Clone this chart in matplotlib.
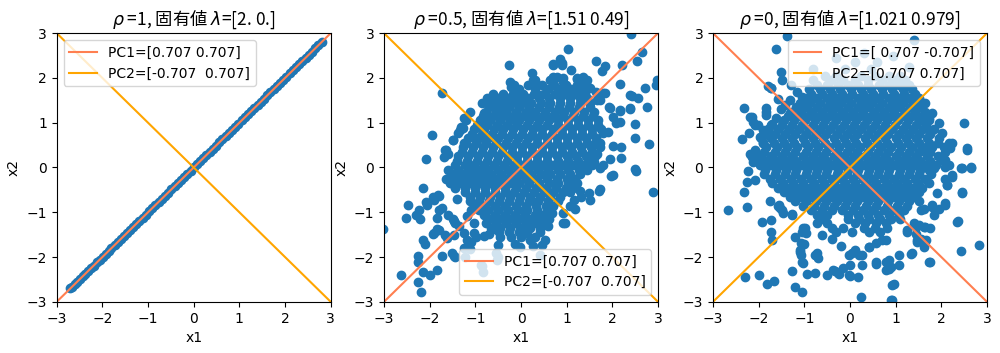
import numpy as np
import matplotlib
matplotlib.use("Agg")
import matplotlib.pyplot as plt

plt.rcParams['font.family'] = ['DejaVu Sans', 'Noto Sans CJK JP']

# --- data ---
rhos = ['1', '0.5', '0']
eigvals = ['[2. 0.]', '[1.51 0.49]', '[1.021 0.979]']
pc1 = [(0.707, 0.707), (0.707, 0.707), (0.707, -0.707)]
pc2 = [(-0.707, 0.707), (-0.707, 0.707), (0.707, 0.707)]
pc1_labels = ['PC1=[0.707 0.707]', 'PC1=[0.707 0.707]', 'PC1=[ 0.707 -0.707]']
pc2_labels = ['PC2=[-0.707  0.707]', 'PC2=[-0.707  0.707]', 'PC2=[0.707 0.707]']
legend_locs = ['upper left', 'lower right', 'upper right']

# rho = 1: every point sits on x2 = x1
x1_rho1 = [-2.70, -2.66, -2.60, -2.55, -2.49, -2.43, -2.37, -2.31, -2.25, -2.19,
           -2.12, -2.06, -1.99, -1.93, -1.86, -1.80, -1.73, -1.66, -1.60, -1.53,
           -1.46, -1.40, -1.33, -1.26, -1.19, -1.12, -1.05, -0.98, -0.91, -0.84,
           -0.77, -0.70, -0.63, -0.56, -0.49, -0.42, -0.35, -0.28, -0.21, -0.14,
           -0.07, 0.00, 0.07, 0.14, 0.21, 0.28, 0.35, 0.42, 0.49, 0.56,
           0.63, 0.70, 0.77, 0.84, 0.91, 0.98, 1.05, 1.12, 1.19, 1.26,
           1.33, 1.40, 1.47, 1.54, 1.61, 1.68, 1.75, 1.82, 1.89, 1.96,
           2.03, 2.10, 2.17, 2.24, 2.31, 2.38, 2.45, 2.52, 2.59, 2.66, 2.73, 2.80]
x2_rho1 = list(x1_rho1)

# rho = 0.5 : scattered points
pts_rho05 = [
    (2.40, 2.98), (1.02, 2.64), (-0.26, 2.28), (0.70, 2.31), (0.86, 2.42), (0.90, 2.30),
    (1.65, 2.37), (1.78, 2.16), (2.22, 2.29), (2.53, 2.37), (2.64, 2.59), (2.95, 1.84),
    (1.10, 2.18), (0.24, 2.10), (0.30, 1.95), (0.34, 1.84), (-0.25, 1.92), (-0.21, 1.80),
    (-1.74, 1.67), (2.16, 1.87), (1.80, 1.66), (2.42, 1.60), (2.56, 1.55), (2.75, 1.36),
    (2.49, 0.97), (2.49, 0.65), (2.80, 0.52), (2.02, 0.49), (2.20, 0.46), (2.20, 0.22),
    (2.50, -0.04), (2.38, 1.30), (2.16, 1.27), (1.94, 1.32), (-1.11, 1.25), (-0.74, 1.43),
    (-0.30, 1.43), (-1.94, 0.72), (-1.49, 0.61), (-2.09, 0.18), (-1.67, 0.39), (-1.60, 0.30),
    (-1.27, 0.88), (-1.20, 1.06), (-1.34, 0.84), (-0.54, 1.28), (0.41, 1.62), (0.63, 1.95),
    (0.78, 2.02), (0.93, 1.90), (1.22, 1.98), (1.36, 2.02), (1.43, 1.88), (1.65, 1.69),
    (1.72, 1.50), (2.02, 1.13), (2.09, 0.99), (1.90, 0.80), (1.95, 0.20), (1.80, 0.05),
    (2.51, -0.08), (2.88, -0.54), (1.98, -0.18), (1.72, -0.48), (1.51, -0.73), (1.32, -0.65),
    (1.18, -0.92), (0.96, -1.25), (0.62, -1.14), (0.52, -1.63), (0.41, -1.37), (-2.14, -0.45),
    (-2.47, -0.83), (-2.51, -1.13), (-2.29, -1.06), (-2.22, -1.14), (-2.07, -0.77), (-1.92, -0.66),
    (-1.82, -0.62), (-2.14, -1.63), (-2.10, -1.70), (-1.92, -1.48), (-1.85, -1.37), (-1.60, -1.07),
    (-1.49, -1.14), (-1.45, -1.25), (-1.67, -1.51), (-2.25, -1.97), (-2.25, -2.11), (-2.62, -2.41),
    (-2.14, -2.33), (-1.85, -2.30), (-2.00, -2.41), (-2.25, -2.56), (-2.18, -2.78), (-1.52, -1.92),
    (-1.45, -2.00), (-1.23, -2.00), (-1.12, -1.81), (-0.83, -2.33), (-0.87, -2.18), (-0.54, -1.92),
    (-0.50, -2.00), (-1.09, -1.66), (-0.98, -1.55), (-0.69, -1.48), (-0.58, -1.37), (-0.50, -1.74),
    (-0.14, -1.70), (-0.03, -1.77), (0.19, -1.63), (0.30, -1.55), (0.92, -1.25), (-3.02, -1.38),
    # around the edge of the cloud
    (-0.77, 1.47), (-0.66, 1.40), (-0.48, 1.28), (-0.34, 1.40), (-1.25, 1.10), (-1.32, 0.91),
    (-1.39, 0.76), (-1.50, 0.61), (-1.65, 0.39), (-1.69, 0.24), (-1.25, 0.54), (-1.03, 0.69),
    (-0.96, 0.91), (-0.81, 1.02), (-0.81, 1.21), (-0.15, 1.66), (-0.12, 1.51), (0.89, 2.33),
    (0.69, 2.29), (1.84, 2.27), (0.27, 1.96), (2.72, 1.77), (2.97, 1.96), (1.84, 1.66),
    (1.66, 1.51), (2.39, 1.62), (1.92, 1.36), (2.17, 1.28), (2.39, 1.32), (2.17, 1.02),
    (1.80, 0.76), (1.73, 0.54), (1.66, 0.31), (1.59, 0.13), (0.71, 2.03), (0.93, 1.99),
    (1.22, 1.99), (1.44, 1.96), (1.51, 1.77), (1.37, 1.88), (-2.23, -0.94), (-2.05, -0.83),
    (-1.91, -0.72), (-1.80, -0.64), (-1.83, -1.13), (-1.80, -0.94), (-1.72, -0.90), (-1.91, -1.46),
    (-1.80, -1.39), (-1.61, -1.57), (-1.47, -1.50), (-1.47, -1.20), (-1.36, -1.31), (-1.25, -1.46),
    (-1.72, -1.98), (-1.47, -1.98), (-1.18, -1.61), (-1.03, -1.46), (-0.81, -1.54), (-1.25, -1.80),
    (-0.85, -2.21), (-0.52, -2.06), (-1.03, -1.24), (-1.18, -1.09), (-1.10, -0.94), (-1.40, -0.70),
    (-1.55, -0.35), (1.73, -0.01), (2.02, -0.16), (1.70, -0.53), (1.48, -0.57), (1.29, -0.53),
    (1.15, -0.72), (1.08, -0.87), (0.93, -1.01), (0.67, -1.01), (0.60, -1.31), (0.49, -1.24),
    (0.42, -1.43), (0.45, -1.72), (0.27, -1.76), (0.13, -1.46), (0.42, -1.95),
]

# rho = 0.5 : dense middle of the cloud
core_rho05 = [
    (-0.15, 1.85), (0.15, 1.85), (0.45, 1.85), (0.72, 1.85), (0.98, 1.85), (1.22, 1.85),
    (-0.05, 1.75), (0.30, 1.75), (0.60, 1.75), (0.86, 1.75), (1.10, 1.75), (1.32, 1.75),
    (-0.62, 1.65), (-0.40, 1.65), (-0.18, 1.65), (0.05, 1.65), (0.28, 1.65), (0.50, 1.65),
    (0.74, 1.65), (0.96, 1.65), (1.18, 1.65), (1.40, 1.65),
    (-0.74, 1.55), (-0.51, 1.55), (-0.29, 1.55), (-0.07, 1.55), (0.16, 1.55), (0.39, 1.55),
    (0.62, 1.55), (0.85, 1.55), (1.07, 1.55), (1.29, 1.55), (1.45, 1.55),
    (-0.85, 1.45), (-0.62, 1.45), (-0.41, 1.45), (-0.20, 1.45), (0.02, 1.45), (0.22, 1.45),
    (0.43, 1.45), (0.64, 1.45), (0.86, 1.45), (1.08, 1.45), (1.29, 1.45), (1.50, 1.45),
    (-0.70, 1.35), (-0.48, 1.35), (-0.26, 1.35), (-0.04, 1.35), (0.18, 1.35),
    (0.40, 1.35), (0.62, 1.35), (0.84, 1.35), (1.06, 1.35), (1.28, 1.35), (1.50, 1.35),
    (-0.77, 1.25), (-0.55, 1.25), (-0.33, 1.25), (-0.12, 1.25), (0.10, 1.25),
    (0.31, 1.25), (0.53, 1.25), (0.74, 1.25), (0.95, 1.25), (1.17, 1.25), (1.38, 1.25), (1.60, 1.25),
    (-0.84, 1.15), (-0.62, 1.15), (-0.40, 1.15), (-0.18, 1.15), (0.04, 1.15),
    (0.26, 1.15), (0.48, 1.15), (0.70, 1.15), (0.92, 1.15), (1.14, 1.15), (1.36, 1.15), (1.58, 1.15),
    (-0.90, 1.05), (-0.68, 1.05), (-0.47, 1.05), (-0.25, 1.05), (-0.04, 1.05),
    (0.18, 1.05), (0.39, 1.05), (0.61, 1.05), (0.82, 1.05), (1.03, 1.05), (1.25, 1.05),
    (1.46, 1.05), (1.68, 1.05),
    (-0.96, 0.95), (-0.74, 0.95), (-0.52, 0.95), (-0.30, 0.95), (-0.08, 0.95),
    (0.14, 0.95), (0.36, 0.95), (0.58, 0.95), (0.80, 0.95), (1.02, 0.95), (1.24, 0.95),
    (1.46, 0.95), (1.68, 0.95),
    (-1.04, 0.85), (-0.82, 0.85), (-0.60, 0.85), (-0.39, 0.85), (-0.17, 0.85),
    (0.05, 0.85), (0.26, 0.85), (0.47, 0.85), (0.69, 0.85), (0.90, 0.85), (1.12, 0.85),
    (1.33, 0.85), (1.55, 0.85), (1.76, 0.85),
    (-1.08, 0.75), (-0.86, 0.75), (-0.64, 0.75), (-0.42, 0.75), (-0.20, 0.75),
    (0.02, 0.75), (0.24, 0.75), (0.46, 0.75), (0.68, 0.75), (0.90, 0.75), (1.12, 0.75),
    (1.34, 0.75), (1.56, 0.75),
    (-1.15, 0.65), (-0.93, 0.65), (-0.72, 0.65), (-0.50, 0.65), (-0.28, 0.65),
    (-0.07, 0.65), (0.15, 0.65), (0.36, 0.65), (0.57, 0.65), (0.79, 0.65), (1.00, 0.65),
    (1.22, 0.65), (1.43, 0.65), (1.65, 0.65),
    (-1.20, 0.55), (-0.98, 0.55), (-0.76, 0.55), (-0.54, 0.55), (-0.32, 0.55),
    (-0.10, 0.55), (0.12, 0.55), (0.34, 0.55), (0.56, 0.55), (0.78, 0.55), (1.00, 0.55),
    (1.22, 0.55), (1.44, 0.55), (1.62, 0.55),
    (-1.26, 0.45), (-1.05, 0.45), (-0.83, 0.45), (-0.62, 0.45), (-0.40, 0.45),
    (-0.19, 0.45), (0.03, 0.45), (0.24, 0.45), (0.46, 0.45), (0.67, 0.45), (0.89, 0.45),
    (1.10, 0.45), (1.32, 0.45), (1.53, 0.45), (1.72, 0.45),
    (-1.30, 0.35), (-1.08, 0.35), (-0.86, 0.35), (-0.64, 0.35), (-0.42, 0.35),
    (-0.20, 0.35), (0.02, 0.35), (0.24, 0.35), (0.46, 0.35), (0.68, 0.35), (0.90, 0.35),
    (1.12, 0.35), (1.34, 0.35), (1.56, 0.35),
    (-1.37, 0.25), (-1.15, 0.25), (-0.94, 0.25), (-0.72, 0.25), (-0.51, 0.25),
    (-0.29, 0.25), (-0.08, 0.25), (0.14, 0.25), (0.35, 0.25), (0.57, 0.25), (0.78, 0.25),
    (1.00, 0.25), (1.21, 0.25), (1.42, 0.25), (1.62, 0.25),
    (-1.40, 0.15), (-1.18, 0.15), (-0.96, 0.15), (-0.74, 0.15), (-0.52, 0.15),
    (-0.30, 0.15), (-0.08, 0.15), (0.14, 0.15), (0.36, 0.15), (0.58, 0.15), (0.80, 0.15),
    (1.02, 0.15), (1.24, 0.15), (1.46, 0.15),
    (-1.45, 0.05), (-1.23, 0.05), (-1.02, 0.05), (-0.80, 0.05), (-0.59, 0.05),
    (-0.37, 0.05), (-0.16, 0.05), (0.06, 0.05), (0.27, 0.05), (0.49, 0.05), (0.70, 0.05),
    (0.92, 0.05), (1.13, 0.05), (1.35, 0.05), (1.55, 0.05),
    (-1.60, -0.05), (-1.38, -0.05), (-1.16, -0.05), (-0.94, -0.05), (-0.72, -0.05), (-0.50, -0.05),
    (-0.28, -0.05), (-0.06, -0.05), (0.16, -0.05), (0.38, -0.05), (0.60, -0.05), (0.82, -0.05),
    (1.04, -0.05), (1.26, -0.05), (1.45, -0.05),
    (-1.51, -0.15), (-1.29, -0.15), (-1.08, -0.15), (-0.86, -0.15), (-0.65, -0.15),
    (-0.43, -0.15), (-0.22, -0.15), (0.00, -0.15), (0.21, -0.15), (0.43, -0.15), (0.64, -0.15),
    (0.86, -0.15), (1.07, -0.15), (1.30, -0.15),
    (-1.64, -0.25), (-1.42, -0.25), (-1.20, -0.25), (-0.98, -0.25), (-0.76, -0.25), (-0.54, -0.25),
    (-0.32, -0.25), (-0.10, -0.25), (0.12, -0.25), (0.34, -0.25), (0.56, -0.25), (0.78, -0.25),
    (1.00, -0.25), (1.18, -0.25),
    (-1.54, -0.35), (-1.33, -0.35), (-1.11, -0.35), (-0.90, -0.35), (-0.68, -0.35),
    (-0.47, -0.35), (-0.25, -0.35), (-0.04, -0.35), (0.18, -0.35), (0.39, -0.35), (0.61, -0.35),
    (0.82, -0.35), (1.04, -0.35), (1.22, -0.35),
    (-1.44, -0.45), (-1.22, -0.45), (-1.00, -0.45), (-0.78, -0.45), (-0.56, -0.45),
    (-0.34, -0.45), (-0.12, -0.45), (0.10, -0.45), (0.32, -0.45), (0.54, -0.45), (0.76, -0.45),
    (0.98, -0.45), (1.14, -0.45),
    (-1.22, -0.55), (-1.01, -0.55), (-0.79, -0.55), (-0.58, -0.55),
    (-0.36, -0.55), (-0.15, -0.55), (0.07, -0.55), (0.28, -0.55), (0.50, -0.55), (0.71, -0.55),
    (0.93, -0.55), (1.08, -0.55),
    (-1.12, -0.65), (-0.90, -0.65), (-0.68, -0.65), (-0.46, -0.65),
    (-0.24, -0.65), (-0.02, -0.65), (0.20, -0.65), (0.42, -0.65), (0.64, -0.65), (0.86, -0.65),
    (-1.12, -0.75), (-0.91, -0.75), (-0.69, -0.75), (-0.48, -0.75),
    (-0.26, -0.75), (-0.05, -0.75), (0.17, -0.75), (0.38, -0.75), (0.60, -0.75), (0.80, -0.75),
    (-1.00, -0.85), (-0.78, -0.85), (-0.56, -0.85), (-0.34, -0.85),
    (-0.12, -0.85), (0.10, -0.85), (0.32, -0.85), (0.54, -0.85), (0.70, -0.85),
    (-0.93, -0.95), (-0.72, -0.95), (-0.50, -0.95), (-0.29, -0.95),
    (-0.07, -0.95), (0.14, -0.95), (0.36, -0.95), (0.58, -0.95),
    (-0.80, -1.05), (-0.58, -1.05), (-0.36, -1.05), (-0.14, -1.05),
    (0.08, -1.05), (0.30, -1.05), (0.48, -1.05),
    (-0.69, -1.15), (-0.48, -1.15), (-0.26, -1.15), (-0.05, -1.15),
    (0.17, -1.15), (0.38, -1.15),
    (-0.76, -1.25), (-0.54, -1.25), (-0.32, -1.25), (-0.10, -1.25), (0.12, -1.25),
    (0.30, -1.25),
    (-0.66, -1.35), (-0.45, -1.35), (-0.23, -1.35), (-0.02, -1.35), (0.20, -1.35),
    (-0.48, -1.45), (-0.26, -1.45), (-0.04, -1.45), (0.12, -1.45),
    (-0.45, -1.55), (-0.22, -1.55), (0.00, -1.55),
]

# rho = 0 : scattered points
pts_rho0 = [
    (-1.38, 2.94), (1.40, 2.85), (-1.63, 2.64), (-1.52, 2.14), (-1.49, 1.96), (-1.30, 1.84),
    (-1.74, 1.77), (-2.33, 1.32), (-2.36, 0.63), (-2.14, 1.13), (-2.07, 0.95), (-1.85, 1.25),
    (-1.82, 0.84), (-1.93, 0.69), (-2.22, 0.76), (-2.07, 0.39), (-2.14, 0.24), (1.94, 0.99),
    (2.02, 0.76), (2.24, 0.54), (2.20, 0.43), (2.09, 0.16), (2.56, 0.43), (2.49, 1.00),
    (1.65, 1.43), (1.80, 1.21), (1.58, 1.06), (-0.30, 2.45), (0.10, 2.35), (0.60, 2.35),
    (0.95, 2.50), (1.30, 2.25), (0.30, 2.55), (-0.80, 2.20), (-0.10, 2.20), (0.45, 2.20),
    (-2.67, -0.95), (-2.33, -0.54), (-2.25, -0.88), (-2.25, -0.32), (-2.07, -0.28), (-1.93, -1.21),
    (-1.74, -1.17), (-1.74, -1.44), (-1.71, -1.63), (-2.31, -2.45), (-2.00, -2.41), (-1.82, -2.60),
    (-1.67, -2.54), (-1.27, -2.32), (-1.20, -2.67), (-1.05, -2.77), (-0.94, -2.37), (-0.76, -2.35),
    (-0.50, -2.41), (-0.32, -2.32), (-0.25, -2.37), (-0.03, -2.41), (0.18, -2.45), (0.23, -2.89),
    (0.92, -2.97), (0.96, -2.60), (0.56, -2.12), (0.78, -2.10), (0.85, -2.26), (1.07, -2.18),
    (1.07, -1.96), (1.36, -1.92), (1.76, -2.10), (2.42, -1.87), (2.82, -1.74), (2.37, -1.20),
    (2.09, -0.80), (2.45, -0.54), (2.45, -0.02), (2.66, 0.00), (-1.09, -1.89), (-1.05, -2.11),
    (-0.76, -1.96), (-0.72, -1.92), (-0.03, -1.96), (0.05, -1.92), (0.20, -1.96), (0.27, -2.18),
    (0.00, -2.18), (0.41, -1.78), (0.56, -1.68), (0.78, -1.63), (1.47, -1.63), (1.62, -1.77),
    (1.51, -1.29), (1.65, -1.33), (1.76, -1.36), (1.94, -0.92), (1.80, -0.84), (1.62, -0.92),
    (2.13, -0.39), (2.24, -0.17), (2.09, -0.25), (1.83, -0.02), (2.09, 0.00), (-1.56, -0.84),
    (-1.49, -0.95), (-1.27, -1.03), (-1.05, -1.44), (-0.98, -1.36), (-1.20, -1.55), (-1.00, -1.70),
    (-0.40, -1.60), (-0.20, -1.75), (1.25, -1.45), (1.40, -1.25),
    # around the edge of the cloud
    (-1.80, 1.81), (-1.72, 1.77), (-2.20, 1.13), (-2.12, 1.02), (-2.01, 0.95), (-1.83, 1.32),
    (-1.83, 1.17), (-1.58, 1.54), (-1.32, 1.51), (-1.43, 1.40), (-1.32, 1.21), (-1.91, 0.84),
    (-1.98, 0.69), (-1.91, 0.54), (-2.20, 0.31), (-2.05, 0.31), (-1.94, 0.16), (-2.12, 0.13),
    (-1.15, 1.68), (-1.05, 1.58), (-1.52, 1.30), (-1.62, 1.10), (-1.70, 0.98),
    (-2.23, -0.08), (-1.76, -0.75), (-1.58, -0.87), (-1.47, -1.01), (-1.28, -1.05), (-1.54, -0.90),
    (-1.03, -1.35), (-0.96, -1.46), (-1.07, -1.69), (-1.07, -1.95), (-1.10, -1.84), (-1.03, -2.13),
    (-0.74, -1.95), (-0.70, -2.02), (-0.37, -2.28), (-0.26, -2.36), (-0.15, -2.25), (-0.01, -2.43),
    (2.17, 0.54), (2.57, 0.39), (2.09, 0.35), (2.02, 0.16), (2.17, 0.05), (2.42, -0.02),
    (2.64, -0.02), (2.24, -0.21), (2.13, -0.40), (2.46, -0.58), (1.91, -0.58), (2.09, -0.84),
    (1.80, -0.88), (1.84, -1.07), (1.55, -0.96), (2.35, -1.22), (1.73, -2.11), (1.33, -1.93),
    (0.85, -2.07), (0.56, -2.15), (0.78, -2.30), (0.89, -2.22), (1.66, -1.63), (1.47, -1.66),
    (1.44, -1.48), (1.55, -1.59), (0.93, -2.63), (0.89, -2.97), (1.44, -1.33), (1.62, -1.33),
    (1.25, -1.40), (0.41, -1.78), (0.71, -1.63), (0.12, -1.85), (0.27, -1.96), (1.73, 1.10),
    (1.80, 0.84), (1.66, 0.39), (-0.62, -1.50), (-0.72, -1.25),
]

# rho = 0 : dense middle of the cloud
core_rho0 = [
    (-0.55, 2.05), (-0.30, 2.05), (0.25, 2.05), (0.55, 2.05), (0.85, 2.05), (1.10, 2.05),
    (-0.80, 1.95), (-0.42, 1.95), (-0.15, 1.95), (0.10, 1.95), (0.40, 1.95), (0.70, 1.95),
    (0.98, 1.95), (1.20, 1.95),
    (-0.72, 1.85), (-0.50, 1.85), (-0.27, 1.85), (-0.05, 1.85), (0.18, 1.85),
    (0.40, 1.85), (0.63, 1.85), (0.86, 1.85), (1.08, 1.85), (1.30, 1.85),
    (-0.89, 1.75), (-0.66, 1.75), (-0.44, 1.75), (-0.21, 1.75), (0.02, 1.75),
    (0.25, 1.75), (0.47, 1.75), (0.70, 1.75), (0.93, 1.75), (1.15, 1.75), (1.35, 1.75),
    (-0.85, 1.65), (-0.62, 1.65), (-0.40, 1.65), (-0.17, 1.65),
    (0.05, 1.65), (0.28, 1.65), (0.51, 1.65), (0.73, 1.65), (0.96, 1.65), (1.19, 1.65), (1.42, 1.65),
    (-0.96, 1.55), (-0.74, 1.55), (-0.51, 1.55), (-0.28, 1.55),
    (-0.06, 1.55), (0.17, 1.55), (0.40, 1.55), (0.62, 1.55), (0.85, 1.55), (1.08, 1.55),
    (1.30, 1.55), (1.50, 1.55),
    (-1.10, 1.45), (-0.88, 1.45), (-0.65, 1.45), (-0.42, 1.45),
    (-0.20, 1.45), (0.03, 1.45), (0.26, 1.45), (0.48, 1.45), (0.71, 1.45), (0.94, 1.45),
    (1.16, 1.45), (1.39, 1.45), (1.60, 1.45),
    (-1.19, 1.35), (-0.96, 1.35), (-0.73, 1.35), (-0.51, 1.35),
    (-0.28, 1.35), (-0.05, 1.35), (0.17, 1.35), (0.40, 1.35), (0.63, 1.35), (0.85, 1.35),
    (1.08, 1.35), (1.31, 1.35), (1.52, 1.35),
    (-1.30, 1.25), (-1.07, 1.25), (-0.84, 1.25), (-0.62, 1.25),
    (-0.39, 1.25), (-0.16, 1.25), (0.06, 1.25), (0.29, 1.25), (0.52, 1.25), (0.74, 1.25),
    (0.97, 1.25), (1.20, 1.25), (1.42, 1.25), (1.65, 1.25),
    (-1.36, 1.15), (-1.14, 1.15), (-0.91, 1.15), (-0.68, 1.15),
    (-0.46, 1.15), (-0.23, 1.15), (0.00, 1.15), (0.22, 1.15), (0.45, 1.15), (0.68, 1.15),
    (0.90, 1.15), (1.13, 1.15), (1.36, 1.15), (1.58, 1.15),
    (-1.45, 1.05), (-1.22, 1.05), (-0.99, 1.05), (-0.77, 1.05),
    (-0.54, 1.05), (-0.31, 1.05), (-0.09, 1.05), (0.14, 1.05), (0.37, 1.05), (0.59, 1.05),
    (0.82, 1.05), (1.05, 1.05), (1.27, 1.05), (1.50, 1.05), (1.72, 1.05),
    (-1.73, 0.95), (-1.50, 0.95), (-1.27, 0.95), (-1.05, 0.95), (-0.82, 0.95),
    (-0.59, 0.95), (-0.37, 0.95), (-0.14, 0.95), (0.09, 0.95), (0.31, 0.95), (0.54, 0.95),
    (0.77, 0.95), (0.99, 0.95), (1.22, 0.95), (1.45, 0.95), (1.67, 0.95),
    (-1.80, 0.85), (-1.57, 0.85), (-1.34, 0.85), (-1.12, 0.85), (-0.89, 0.85),
    (-0.66, 0.85), (-0.44, 0.85), (-0.21, 0.85), (0.02, 0.85), (0.24, 0.85), (0.47, 0.85),
    (0.70, 0.85), (0.92, 0.85), (1.15, 0.85), (1.38, 0.85), (1.60, 0.85), (1.85, 0.85),
    (-1.88, 0.75), (-1.65, 0.75), (-1.43, 0.75), (-1.20, 0.75), (-0.97, 0.75), (-0.75, 0.75),
    (-0.52, 0.75), (-0.29, 0.75), (-0.07, 0.75), (0.16, 0.75), (0.39, 0.75), (0.61, 0.75),
    (0.84, 0.75), (1.07, 0.75), (1.29, 0.75), (1.52, 0.75), (1.75, 0.75),
    (-1.95, 0.65), (-1.72, 0.65), (-1.50, 0.65), (-1.27, 0.65), (-1.04, 0.65), (-0.82, 0.65),
    (-0.59, 0.65), (-0.36, 0.65), (-0.14, 0.65), (0.09, 0.65), (0.32, 0.65), (0.54, 0.65),
    (0.77, 0.65), (1.00, 0.65), (1.22, 0.65), (1.45, 0.65), (1.68, 0.65), (1.95, 0.65),
    (-1.90, 0.55), (-1.67, 0.55), (-1.44, 0.55), (-1.22, 0.55), (-0.99, 0.55), (-0.76, 0.55),
    (-0.54, 0.55), (-0.31, 0.55), (-0.08, 0.55), (0.14, 0.55), (0.37, 0.55), (0.60, 0.55),
    (0.82, 0.55), (1.05, 0.55), (1.28, 0.55), (1.50, 0.55), (1.73, 0.55), (1.92, 0.55),
    (-1.83, 0.45), (-1.60, 0.45), (-1.37, 0.45), (-1.15, 0.45), (-0.92, 0.45),
    (-0.69, 0.45), (-0.47, 0.45), (-0.24, 0.45), (-0.01, 0.45), (0.21, 0.45), (0.44, 0.45),
    (0.67, 0.45), (0.89, 0.45), (1.12, 0.45), (1.35, 0.45), (1.57, 0.45), (1.80, 0.45), (2.05, 0.45),
    (-1.88, 0.35), (-1.65, 0.35), (-1.43, 0.35), (-1.20, 0.35), (-0.97, 0.35), (-0.75, 0.35),
    (-0.52, 0.35), (-0.29, 0.35), (-0.07, 0.35), (0.16, 0.35), (0.39, 0.35), (0.61, 0.35),
    (0.84, 0.35), (1.07, 0.35), (1.29, 0.35), (1.52, 0.35), (1.75, 0.35),
    (-1.95, 0.25), (-1.72, 0.25), (-1.50, 0.25), (-1.27, 0.25), (-1.04, 0.25), (-0.82, 0.25),
    (-0.59, 0.25), (-0.36, 0.25), (-0.14, 0.25), (0.09, 0.25), (0.32, 0.25), (0.54, 0.25),
    (0.77, 0.25), (1.00, 0.25), (1.22, 0.25), (1.45, 0.25), (1.68, 0.25), (1.92, 0.25),
    (-1.86, 0.15), (-1.63, 0.15), (-1.40, 0.15), (-1.18, 0.15), (-0.95, 0.15), (-0.72, 0.15),
    (-0.50, 0.15), (-0.27, 0.15), (-0.04, 0.15), (0.18, 0.15), (0.41, 0.15), (0.64, 0.15),
    (0.86, 0.15), (1.09, 0.15), (1.32, 0.15), (1.54, 0.15), (1.76, 0.15),
    (-1.98, 0.05), (-1.76, 0.05), (-1.53, 0.05), (-1.30, 0.05), (-1.08, 0.05), (-0.85, 0.05),
    (-0.62, 0.05), (-0.40, 0.05), (-0.17, 0.05), (0.06, 0.05), (0.28, 0.05), (0.51, 0.05),
    (0.74, 0.05), (0.96, 0.05), (1.19, 0.05), (1.42, 0.05), (1.64, 0.05), (1.88, 0.05),
    (-1.86, -0.05), (-1.63, -0.05), (-1.40, -0.05), (-1.18, -0.05), (-0.95, -0.05), (-0.72, -0.05),
    (-0.50, -0.05), (-0.27, -0.05), (-0.04, -0.05), (0.18, -0.05), (0.41, -0.05), (0.64, -0.05),
    (0.86, -0.05), (1.09, -0.05), (1.32, -0.05), (1.54, -0.05), (1.72, -0.05),
    (-1.88, -0.15), (-1.65, -0.15), (-1.42, -0.15), (-1.20, -0.15), (-0.97, -0.15), (-0.74, -0.15),
    (-0.52, -0.15), (-0.29, -0.15), (-0.06, -0.15), (0.16, -0.15), (0.39, -0.15), (0.62, -0.15),
    (0.84, -0.15), (1.07, -0.15), (1.30, -0.15), (1.52, -0.15), (1.78, -0.15),
    (-1.76, -0.25), (-1.53, -0.25), (-1.30, -0.25), (-1.08, -0.25), (-0.85, -0.25), (-0.62, -0.25),
    (-0.40, -0.25), (-0.17, -0.25), (0.06, -0.25), (0.28, -0.25), (0.51, -0.25), (0.74, -0.25),
    (0.96, -0.25), (1.19, -0.25), (1.42, -0.25), (1.64, -0.25),
    (-1.70, -0.35), (-1.47, -0.35), (-1.24, -0.35), (-1.02, -0.35), (-0.79, -0.35), (-0.56, -0.35),
    (-0.34, -0.35), (-0.11, -0.35), (0.12, -0.35), (0.34, -0.35), (0.57, -0.35), (0.80, -0.35),
    (1.02, -0.35), (1.25, -0.35), (1.48, -0.35), (1.72, -0.35),
    (-1.58, -0.45), (-1.35, -0.45), (-1.12, -0.45), (-0.90, -0.45), (-0.67, -0.45), (-0.44, -0.45),
    (-0.22, -0.45), (0.01, -0.45), (0.24, -0.45), (0.46, -0.45), (0.69, -0.45), (0.92, -0.45),
    (1.14, -0.45), (1.37, -0.45), (1.58, -0.45),
    (-1.45, -0.55), (-1.22, -0.55), (-1.00, -0.55), (-0.77, -0.55), (-0.54, -0.55), (-0.32, -0.55),
    (-0.09, -0.55), (0.14, -0.55), (0.36, -0.55), (0.59, -0.55), (0.82, -0.55), (1.04, -0.55),
    (1.27, -0.55), (1.50, -0.55),
    (-1.32, -0.65), (-1.10, -0.65), (-0.87, -0.65), (-0.64, -0.65), (-0.42, -0.65), (-0.19, -0.65),
    (0.04, -0.65), (0.26, -0.65), (0.49, -0.65), (0.72, -0.65), (0.94, -0.65), (1.17, -0.65),
    (1.40, -0.65),
    (-1.20, -0.75), (-0.97, -0.75), (-0.75, -0.75), (-0.52, -0.75), (-0.29, -0.75), (-0.07, -0.75),
    (0.16, -0.75), (0.39, -0.75), (0.61, -0.75), (0.84, -0.75), (1.07, -0.75), (1.29, -0.75),
    (1.50, -0.75),
    (-1.02, -0.85), (-0.79, -0.85), (-0.56, -0.85), (-0.34, -0.85), (-0.11, -0.85), (0.12, -0.85),
    (0.34, -0.85), (0.57, -0.85), (0.80, -0.85), (1.02, -0.85), (1.25, -0.85),
    (-0.85, -0.95), (-0.62, -0.95), (-0.40, -0.95), (-0.17, -0.95), (0.06, -0.95), (0.28, -0.95),
    (0.51, -0.95), (0.74, -0.95), (0.96, -0.95), (1.19, -0.95),
    (-0.72, -1.05), (-0.50, -1.05), (-0.05, -1.05), (0.17, -1.05), (0.40, -1.05), (0.62, -1.05),
    (0.85, -1.05), (1.08, -1.05),
    (-0.60, -1.15), (-0.05, -1.15), (0.20, -1.15), (0.42, -1.15), (0.65, -1.15), (0.90, -1.15),
    (1.10, -1.15),
    (-0.50, -1.25), (0.10, -1.25), (0.33, -1.25), (0.56, -1.25), (0.78, -1.25),
    (-0.40, -1.35), (-0.15, -1.35), (0.30, -1.35), (0.55, -1.35), (0.80, -1.35),
    (-0.30, -1.45), (0.05, -1.45), (0.42, -1.45), (0.65, -1.45),
]

all05 = pts_rho05 + core_rho05
all0 = pts_rho0 + core_rho0
xs = [np.array(x1_rho1), np.array([p[0] for p in all05]), np.array([p[0] for p in all0])]
ys = [np.array(x2_rho1), np.array([p[1] for p in all05]), np.array([p[1] for p in all0])]

fig = plt.figure(figsize=(10, 3.53), dpi=100)
lefts = [0.0567, 0.384, 0.713]
t = np.array([-5, 5])

for i in range(3):
    ax = fig.add_axes([lefts[i], 0.145, 0.274, 0.761])
    ax.scatter(xs[i], ys[i], color='C0')
    ax.plot(t * pc1[i][0], t * pc1[i][1], color='coral', label=pc1_labels[i])
    ax.plot(t * pc2[i][0], t * pc2[i][1], color='orange', label=pc2_labels[i])
    ax.set_xlim(-3, 3)
    ax.set_ylim(-3, 3)
    ax.set_xlabel('x1')
    ax.set_ylabel('x2')
    # mathtext does not fall back between families, so the title gets the CJK font
    ax.set_title('$\\rho$ =' + rhos[i] + ', 固有値 $\\lambda$=' + eigvals[i],
                 family='Noto Sans CJK JP', fontsize=12.5)
    ax.legend(loc=legend_locs[i])

fig.savefig('out.png', dpi=100)
